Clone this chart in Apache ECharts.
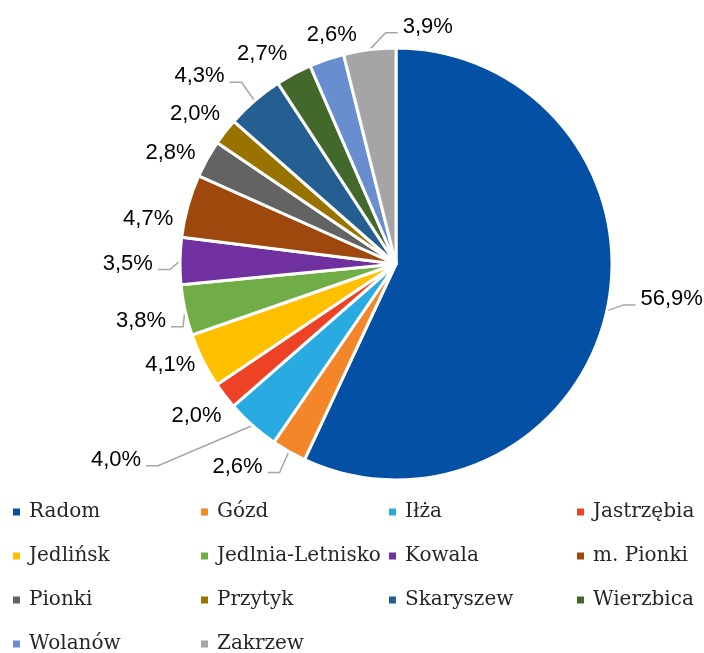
<!DOCTYPE html>
<html>
<head>
<meta charset="utf-8">
<script src="https://cdn.jsdelivr.net/npm/echarts@6/dist/echarts.min.js"></script>
<style>
  html, body { margin: 0; padding: 0; background: #fff; }
  #chart { width: 704px; height: 653px; }
</style>
</head>
<body>
<div id="chart"></div>
<script>
// Share of each gmina (percent)
const categories = ['Radom', 'Gózd', 'Iłża', 'Jastrzębia', 'Jedlińsk', 'Jedlnia-Letnisko', 'Kowala',
  'm. Pionki', 'Pionki', 'Przytyk', 'Skaryszew', 'Wierzbica', 'Wolanów', 'Zakrzew'];
const shares = [56.9, 2.6, 4.0, 2.0, 4.1, 3.8, 3.5, 4.7, 2.8, 2.0, 4.3, 2.7, 2.6, 3.9];
const colors = ['#0450a4', '#f4862a', '#29abe2', '#ee4226', '#ffc000', '#70ad47', '#7030a0',
  '#9e480e', '#636363', '#997300', '#255e91', '#43682b', '#698ed0', '#a5a5a5'];

// Fine-tuning of label placement (pixels from the default radial spot).
const labelOffsets = [[24, -21], [-36, -12], [-114, 9], [0, -1], [0, -12], [-9, 3], [-18, 3],
  [-5, 23], [-5, 12], [-2, 4], [-33, 1], [-17, 7], [14, 2], [61, 0]];
// Labels that were pulled away from their slice get a leader line.
const withLeader = [true, true, true, false, false, true, true, false, false, false, true, false, false, true];

const PIE_CX = 396, PIE_CY = 264, PIE_R = 216;
const LABEL_GAP = 9;

const total = shares.reduce((a, b) => a + b, 0);
const midAngles = [];
{
  let acc = 0;
  shares.forEach(v => { midAngles.push((acc + v / 2) / total * 2 * Math.PI); acc += v; });
}

const chart = echarts.init(document.getElementById('chart'));

const data = categories.map((name, i) => ({
  name: name,
  value: shares[i],
  itemStyle: { color: colors[i] },
  labelLine: { show: withLeader[i] }
}));

// Place each label just outside the pie along its slice's mid-angle,
// then apply the shift and draw an elbow leader line where needed.
function placeLabel(params) {
  const i = params.dataIndex;
  const a = midAngles[i];
  const ux = Math.sin(a), uy = -Math.cos(a);
  const w = params.labelRect.width, h = params.labelRect.height;
  const d = PIE_R + LABEL_GAP + (w / 2) * Math.abs(ux) + (h / 2) * Math.abs(uy);
  const off = labelOffsets[i];
  const x = PIE_CX + d * ux + off[0];
  const y = PIE_CY + d * uy + off[1];
  const out = { x: x, y: y, align: 'center', verticalAlign: 'middle' };
  if (withLeader[i]) {
    const p0 = [PIE_CX + PIE_R * ux, PIE_CY + PIE_R * uy];
    const ly = y + 6;
    const onLeft = x < PIE_CX;
    const endX = onLeft ? x + w / 2 + 5 : x - w / 2 - 5;
    const elbowX = onLeft ? endX + 12 : endX - 12;
    out.labelLinePoints = [p0, [elbowX, ly], [endX, ly]];
  }
  return out;
}

chart.setOption({
  animation: false,
  legend: {
    left: 6,
    top: 485,
    width: 760,
    orient: 'horizontal',
    itemWidth: 9,
    itemHeight: 9,
    itemGap: 0,
    icon: 'rect',
    textStyle: {
      fontFamily: 'DejaVu Serif',
      fontSize: 20,
      color: '#262626',
      width: 170,
      lineHeight: 44,
      padding: [0, 0, 0, 3],
      overflow: 'none'
    },
    data: categories
  },
  series: [{
    type: 'pie',
    center: [PIE_CX, PIE_CY],
    radius: [0, PIE_R],
    startAngle: 90,
    clockwise: true,
    avoidLabelOverlap: false,
    itemStyle: { borderColor: '#ffffff', borderWidth: 3 },
    label: {
      show: true,
      position: 'outside',
      fontFamily: 'Liberation Sans',
      fontSize: 22,
      color: '#000',
      overflow: 'none',
      formatter: p => p.value.toFixed(1).replace('.', ',') + '%'
    },
    labelLine: {
      show: true,
      length: 10,
      length2: 10,
      lineStyle: { color: '#a6a6a6', width: 1.5 }
    },
    labelLayout: placeLabel,
    emphasis: { disabled: true },
    data: data
  }]
});
</script>
</body>
</html>
